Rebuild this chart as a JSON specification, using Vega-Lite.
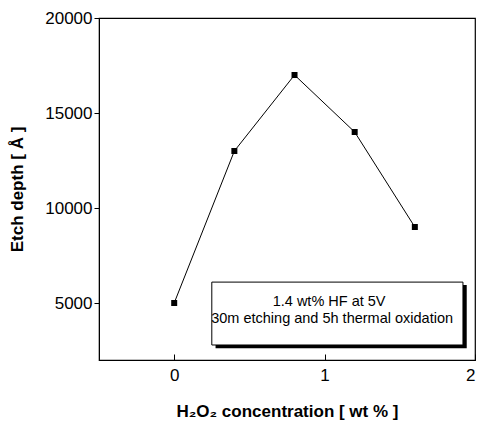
{
  "$schema": "https://vega.github.io/schema/vega-lite/v6.json",
  "width": 376,
  "height": 342,
  "autosize": {"type": "none"},
  "padding": {"left": 99, "top": 18, "right": 5, "bottom": 67},
  "background": "white",
  "config": {
    "font": "Liberation Sans",
    "view": {"stroke": "black", "strokeWidth": 1.2},
    "axis": {"grid": false, "domainColor": "black", "tickColor": "black", "labelColor": "black", "titleColor": "black", "labelFont": "Liberation Sans", "titleFont": "Liberation Sans"}
  },
  "datasets": {
    "pts": [
      {"c": 0, "d": 5000},
      {"c": 0.4, "d": 13000},
      {"c": 0.8, "d": 17000},
      {"c": 1.2, "d": 14000},
      {"c": 1.6, "d": 9000}
    ],
    "box": [{"x1": 0.25, "x2": 1.92, "y1": 6100, "y2": 2790, "sx1": 0.275, "sx2": 1.945, "sy1": 5950, "sy2": 2620}],
    "notes": [
      {"c": 1.03, "d": 5050, "t": "1.4 wt% HF at 5V"},
      {"c": 1.05, "d": 4150, "t": "30m etching and 5h thermal oxidation"}
    ]
  },
  "layer": [
    {
      "data": {"name": "pts"},
      "mark": {"type": "line", "color": "black", "strokeWidth": 1},
      "encoding": {
        "x": {"field": "c", "type": "quantitative", "scale": {"domain": [-0.5, 2], "nice": false},
          "axis": {"values": [0, 1, 2], "title": "H₂O₂ concentration  [ wt % ]", "format": "d", "labelFontSize": 17, "titleFontSize": 17, "titleFontWeight": "bold", "tickSize": -6, "labelPadding": 13, "titlePadding": 20}},
        "y": {"field": "d", "type": "quantitative", "scale": {"domain": [2000, 20000], "nice": false, "zero": false},
          "axis": {"values": [5000, 10000, 15000, 20000], "title": "Etch  depth  [ Å ]", "format": "d", "labelFontSize": 17, "titleFontSize": 17, "titleFontWeight": "bold", "tickSize": 5, "labelPadding": 2, "titlePadding": 18}}
      }
    },
    {
      "data": {"name": "pts"},
      "mark": {"type": "square", "color": "black", "size": 36, "opacity": 1, "filled": true},
      "encoding": {
        "x": {"field": "c", "type": "quantitative"},
        "y": {"field": "d", "type": "quantitative"}
      }
    },
    {
      "data": {"name": "box"},
      "mark": {"type": "rect", "fill": "black"},
      "encoding": {
        "x": {"field": "sx1", "type": "quantitative"},
        "x2": {"field": "sx2"},
        "y": {"field": "sy1", "type": "quantitative"},
        "y2": {"field": "sy2"}
      }
    },
    {
      "data": {"name": "box"},
      "mark": {"type": "rect", "fill": "white", "stroke": "black", "strokeWidth": 1},
      "encoding": {
        "x": {"field": "x1", "type": "quantitative"},
        "x2": {"field": "x2"},
        "y": {"field": "y1", "type": "quantitative"},
        "y2": {"field": "y2"}
      }
    },
    {
      "data": {"name": "notes"},
      "mark": {"type": "text", "fontSize": 14.5, "color": "black", "align": "center", "baseline": "middle", "font": "Liberation Sans"},
      "encoding": {
        "x": {"field": "c", "type": "quantitative"},
        "y": {"field": "d", "type": "quantitative"},
        "text": {"field": "t"}
      }
    }
  ]
}
